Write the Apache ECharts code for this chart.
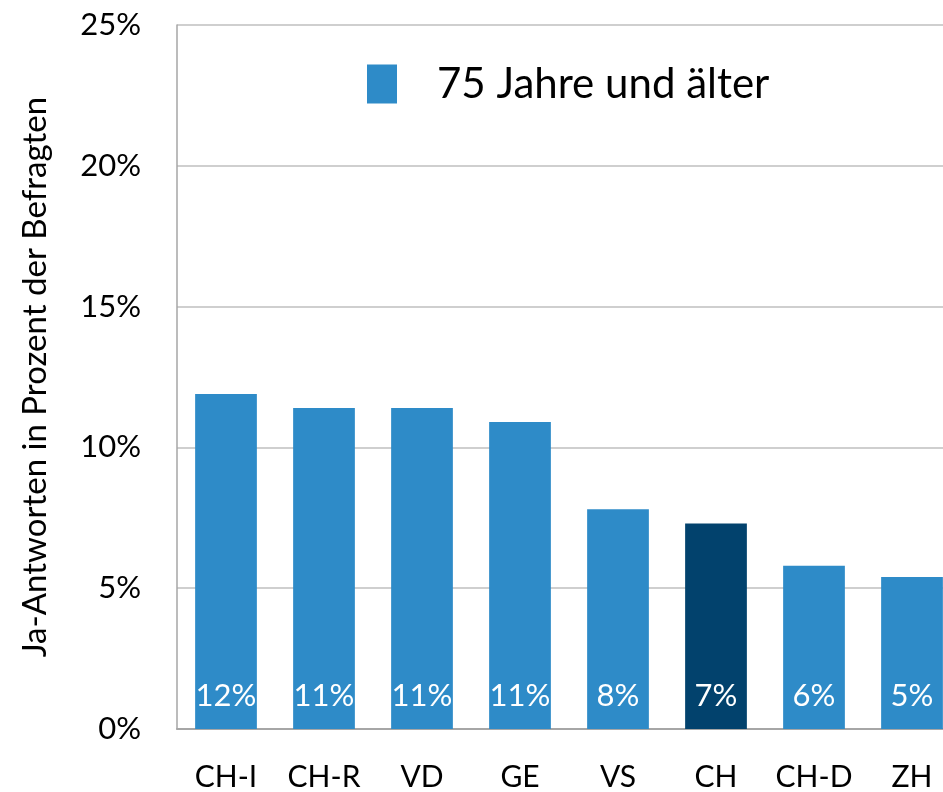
<!DOCTYPE html>
<html lang="de">
<head>
<meta charset="utf-8">
<title>75 Jahre und älter</title>
<script src="https://cdn.jsdelivr.net/npm/echarts@6/dist/echarts.min.js"></script>
<style>
  html, body { margin: 0; padding: 0; background: #fff; overflow: hidden; }
  #main { width: 961px; height: 792px; }
</style>
</head>
<body>
<div id="main"></div>
<script type="text/javascript">
    // data
    let regions = ['CH-I', 'CH-R', 'VD', 'GE', 'VS', 'CH', 'CH-D', 'ZH'];
    let shares = [11.9, 11.4, 11.4, 10.9, 7.8, 7.3, 5.8, 5.4];
    let shareLabels = ['12%', '11%', '11%', '11%', '8%', '7%', '6%', '5%'];
    let seriesName = '75 Jahre und älter';
    let highlight = 'CH';

    const FONT = 'Lato, "Open Sans", sans-serif';

    let barData = shares.map((v, i) => {
        let item = { value: v };
        if (regions[i] === highlight) {
            item.itemStyle = { color: '#02426D' };
        }
        return item;
    });

    // the plot runs past the right edge of the picture, so the canvas is wider than the window
    let chart = echarts.init(document.getElementById('main'));

    let option = {
        animation: false,
        textStyle: { fontFamily: FONT },
        grid: { left: 177, top: 25, bottom: 62, right: 0, containLabel: false },
        legend: {
            data: [seriesName],
            left: 367,
            top: 63,
            padding: 0,
            itemWidth: 30,
            itemHeight: 39,
            icon: 'rect',
            textStyle: { fontSize: 42, lineHeight: 39, color: '#000', fontFamily: FONT, padding: [0, 0, 0, 35] }
        },
        xAxis: {
            type: 'category',
            data: regions,
            axisLine: { lineStyle: { color: '#A6A6A6', width: 2 } },
            axisTick: { show: false },
            axisLabel: { interval: 0, fontSize: 30, color: '#000', margin: 33, fontFamily: FONT }
        },
        yAxis: {
            type: 'value',
            min: 0,
            max: 25,
            interval: 5,
            name: 'Ja-Antworten in Prozent der Befragten',
            nameLocation: 'middle',
            nameGap: 125,
            nameRotate: 90,
            nameTextStyle: { fontSize: 33, color: '#000', fontFamily: FONT },
            axisLine: { show: true, lineStyle: { color: '#A6A6A6', width: 1.5 } },
            axisTick: { show: false },
            axisLabel: { fontSize: 31, color: '#000', margin: 36, formatter: '{value}%', fontFamily: FONT },
            splitLine: { lineStyle: { color: '#BFBFBF', width: 1.5 } }
        },
        series: [{
            name: seriesName,
            type: 'bar',
            data: barData,
            barCategoryGap: '37%',
            itemStyle: { color: '#2E8BC8' },
            label: {
                show: true,
                position: 'insideBottom',
                distance: 18,
                color: '#fff',
                fontSize: 31,
                fontFamily: FONT,
                formatter: (p) => shareLabels[p.dataIndex]
            }
        }]
    };

    chart.setOption(option);
</script>
</body>
</html>
